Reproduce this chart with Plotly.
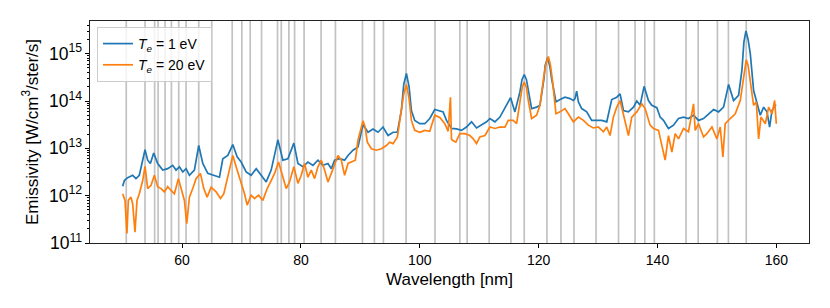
import plotly.graph_objects as go

# ---- data ----
# log10 emissivity values
wl_te1 = [50.0, 50.28, 50.84, 51.68, 52.24, 52.80, 53.76, 54.21, 54.66, 55.22, 55.89, 56.74, 57.58, 58.42,
          58.98, 59.55, 60.11, 60.67, 61.23, 62.07, 62.80, 63.48, 64.32, 65.44, 66.29, 66.85, 67.69, 68.53,
          69.26, 69.94, 70.78, 71.62, 72.47, 73.31, 74.15, 74.99, 76.12, 76.96, 77.80, 78.81, 79.49, 80.33,
          81.17, 82.02, 82.86, 83.70, 84.55, 85.11, 85.67, 86.51, 87.35, 87.92, 88.76, 89.60, 90.44, 91.29,
          92.13, 92.97, 93.81, 94.66, 95.50, 96.23, 96.90, 97.3, 97.75, 98.2, 98.59, 99.15, 100.0, 100.84,
          101.68, 102.52,
          103.37, 103.93, 104.49, 105.34, 106.18, 107.02, 107.86, 108.71, 109.55, 110.39, 111.24, 111.80,
          112.64, 113.48, 114.33, 115.28, 116.01, 116.85, 117.2, 117.58, 117.95, 118.26, 118.82, 119.66,
          120.22, 120.90, 121.1, 121.52, 121.9, 122.19, 122.92, 123.59, 124.44, 125.28, 125.84, 126.12,
          126.40, 126.69, 127.25, 128.09,
          128.93, 129.78, 130.62, 131.46, 132.30, 133.15, 133.71, 134.27, 135.11, 135.96, 136.52, 137.08,
          137.75, 138.48, 139.04, 139.89, 140.45, 141.01, 141.85, 142.70, 143.54, 144.38, 145.22, 146.07,
          146.91, 147.75, 148.60, 149.44, 150.28, 151.12, 151.97, 152.81, 153.65, 154.21, 154.55, 154.89,
          155.25, 155.62, 156.18, 156.74, 157.30, 157.87, 158.43, 158.87, 159.27, 159.83, 160.0]
log_em_te1 = [12.20, 12.32, 12.38, 12.43, 12.36, 12.43, 12.97, 12.75, 12.68, 12.90, 12.68, 12.54, 12.57, 12.64,
              12.54, 12.61, 12.50, 12.57, 12.43, 12.54, 13.06, 12.68, 12.47, 12.43, 12.39, 12.78, 12.85, 13.08,
              12.82, 12.71, 12.50, 12.43, 12.57, 12.43, 12.29, 12.54, 13.18, 12.75, 12.78, 13.11, 12.68, 12.61,
              12.71, 12.64, 12.75, 12.64, 12.68, 12.57, 12.75, 12.78, 12.75, 12.85, 12.96, 13.03, 13.50, 13.34,
              13.41, 13.34, 13.45, 13.27, 13.34, 13.34, 13.80, 14.35, 14.58, 14.30, 13.80, 13.59, 13.52, 13.52,
              13.63, 13.82,
              13.79, 13.77, 13.59, 13.42, 13.41, 13.38, 13.45, 13.56, 13.43, 13.49, 13.56, 13.63,
              13.56, 13.66, 13.87, 14.07, 13.77, 14.19, 14.45, 14.56, 14.45, 14.26, 13.84, 13.87,
              13.91, 14.47, 14.75, 14.92, 14.72, 14.47, 13.98, 14.03, 14.08, 14.05, 14.01, 14.05,
              14.21, 13.98, 13.84, 13.77,
              13.59, 13.59, 13.59, 13.56, 14.03, 14.08, 14.15, 13.80, 13.77, 13.87, 14.00, 13.91,
              14.31, 14.01, 13.91, 13.86, 13.66, 13.59, 13.42, 13.49, 13.63, 13.66, 13.63, 13.70,
              13.59, 13.63, 13.73, 13.82, 13.77, 13.87, 14.35, 14.01, 14.12, 14.65, 15.25, 15.48,
              15.30, 15.00, 14.22, 13.95, 13.70, 13.87, 13.77, 13.45, 13.80, 13.91, 13.91]

wl_te20 = [50.0, 50.39, 50.72, 50.95, 51.40, 51.68, 52.07, 52.41, 52.80, 53.37, 53.76, 54.21, 54.77, 55.33,
           55.89, 56.46, 57.02, 57.58, 58.14, 58.70, 59.38, 59.83, 60.39, 60.78, 61.23, 61.79, 62.35, 63.08,
           63.65, 64.21, 64.88, 65.72, 66.46, 67.02, 67.69, 68.53, 69.26, 69.94, 70.50, 70.95, 71.62, 72.19,
           72.86, 73.59, 74.32, 74.99, 75.56, 76.23, 76.96, 77.52, 78.08, 78.81, 79.49, 80.05, 80.61, 81.17,
           81.74, 82.30, 82.86, 83.42, 83.98, 84.55, 85.11, 85.67, 86.23, 86.79, 87.35, 87.92, 88.48, 89.15,
           89.60, 90.1, 90.44, 90.8, 91.17, 91.85, 92.69, 93.53, 94.38, 94.94, 95.50, 96.23, 96.90, 97.3,
           97.75, 98.2, 98.59, 99.15,
           100.0, 100.84, 101.68, 102.52, 103.37, 104.21, 104.77, 105.16, 105.33, 105.50, 106.07, 106.74,
           107.58, 108.43, 108.99, 109.55, 110.11, 110.97, 111.80, 112.64, 113.48, 114.33, 114.89, 115.73,
           116.29, 116.97, 117.25, 117.58, 117.95, 118.26, 118.82, 119.66, 120.22, 120.90, 121.25, 121.63,
           122.0, 122.36, 122.92, 123.59,
           124.44, 125.0, 125.84, 126.69, 127.53, 128.37, 129.21, 130.06, 130.90, 131.46, 132.02, 132.58,
           133.15, 133.71, 134.27, 135.11, 135.67, 136.52, 137.36, 137.92, 138.76, 139.33, 140.17, 140.73,
           141.29, 141.85, 142.42, 142.98, 143.54, 144.38, 145.22, 146.07, 146.35, 146.91, 147.75, 148.31,
           149.16, 150.0, 150.56, 151.01, 151.40, 152.25, 153.09, 153.93, 154.49, 154.7, 154.94, 155.25,
           155.62, 156.18,
           156.63, 157.02, 157.42, 158.15, 158.71, 159.27, 159.72, 160.0]
log_em_te20 = [12.04, 11.90, 11.20, 11.90, 11.97, 11.83, 11.23, 11.90, 12.04, 12.32, 12.62, 12.15, 12.22, 12.43,
               12.19, 12.15, 12.08, 12.19, 12.11, 12.04, 12.36, 12.15, 11.90, 11.41, 11.97, 12.15, 12.36, 12.47,
               12.15, 11.97, 12.18, 12.08, 11.94, 12.04, 12.39, 12.85, 12.54, 12.26, 12.04, 11.80, 12.01, 11.94,
               12.01, 11.90, 12.15, 12.32, 12.47, 12.71, 12.39, 12.15, 12.29, 12.61, 12.26, 12.43, 12.68, 12.39,
               12.54, 12.36, 12.61, 12.75, 12.54, 12.29, 12.47, 12.68, 12.85, 12.75, 12.43, 12.68, 12.71, 12.75,
               13.17, 13.45, 13.58, 13.45, 13.13, 12.99, 12.96, 12.99, 13.06, 13.13, 13.10, 13.24, 13.80, 14.15,
               14.35, 14.05, 13.59, 13.38,
               13.34, 13.38, 13.36, 13.70, 13.65, 13.52, 13.36, 14.08, 13.20, 13.17, 13.13, 13.31,
               13.31, 13.27, 13.20, 13.10, 13.24, 13.27, 13.45, 13.42, 13.45, 13.45, 13.59, 13.59,
               13.52, 14.01, 14.30, 14.40, 14.28, 14.01, 13.63, 13.70, 13.91, 14.54, 14.80, 14.94,
               14.75, 14.40, 13.73, 13.77,
               13.84, 13.73, 13.56, 13.66, 13.59, 13.49, 13.43, 13.45, 13.35, 13.45, 13.27, 13.66,
               13.87, 14.01, 13.70, 13.27, 13.66, 13.77, 13.94, 13.84, 13.49, 13.42, 13.38, 13.06,
               12.75, 13.27, 12.92, 13.31, 13.20, 13.42, 13.35, 13.94, 13.38, 13.52, 13.24, 13.31,
               13.45, 13.20, 13.45, 12.82, 13.52, 13.63, 13.73, 14.01, 14.51, 14.75, 14.87, 14.75,
               14.44, 13.91,
               13.98, 13.20, 13.66, 13.52, 13.87, 13.73, 14.01, 13.52]

line_wavelengths = [50.6, 53.76, 55.38, 55.96, 57.13, 58.2, 59.43, 60.67, 62.8, 64.99, 68.43, 70.05, 71.46,
                    73.37, 76.06, 76.69, 77.97, 78.93, 80.53, 83.39, 85.8, 90.35, 92.36, 93.88, 97.69, 102.56,
                    106.74, 107.97, 111.68, 115.33, 117.58, 121.4, 123.76, 125.95, 129.66, 133.45, 136.23,
                    137.87, 139.47, 144.8, 146.85, 150.09, 151.94, 154.94]

series_names = ["<i>T</i><sub><i>e</i></sub> = 1 eV", "<i>T</i><sub><i>e</i></sub> = 20 eV"]
x_ticks = [60, 80, 100, 120, 140, 160]

em_te1 = [10 ** v for v in log_em_te1]
em_te20 = [10 ** v for v in log_em_te20]

FONT = "Liberation Sans, Arial, Helvetica, sans-serif"

fig = go.Figure()
fig.add_trace(go.Scatter(x=wl_te1, y=em_te1, mode="lines", name=series_names[0],
                         line=dict(color="#1f77b4", width=1.7)))
fig.add_trace(go.Scatter(x=wl_te20, y=em_te20, mode="lines", name=series_names[1],
                         line=dict(color="#ff7f0e", width=1.7)))

for w in line_wavelengths:
    fig.add_shape(type="line", xref="x", yref="paper", x0=w, x1=w, y0=0, y1=1,
                  line=dict(color="#c2c2c2", width=1.7), layer="below")

fig.update_layout(
    width=830, height=308,
    margin=dict(l=82, r=29, t=13, b=73),
    paper_bgcolor="white", plot_bgcolor="white",
    font=dict(family=FONT, size=14, color="black"),
    showlegend=True,
    legend=dict(x=0.0097, y=0.973, xanchor="left", yanchor="top",
                bgcolor="rgba(255,255,255,0.8)", bordercolor="#cccccc", borderwidth=1,
                font=dict(family=FONT, size=14), itemwidth=30, tracegroupgap=0),
)
fig.update_xaxes(range=[44.5, 165.5], tickvals=x_ticks, ticks="outside", ticklen=4, tickwidth=1,
                 tickcolor="black", showline=True, linecolor="#222222", linewidth=1.2, mirror=True,
                 showgrid=False, zeroline=False, automargin=False,
                 title=dict(text="Wavelength [nm]", standoff=6),
                 tickfont=dict(size=14))
fig.update_yaxes(type="log", range=[11, 15.69], dtick=1, exponentformat="power", ticks="outside",
                 ticklen=4, tickwidth=1, tickcolor="black", showline=True, linecolor="#222222",
                 linewidth=1.2, mirror=True, showgrid=False, zeroline=False, automargin=False,
                 minor=dict(ticks="outside", ticklen=2, tickwidth=0.7, tickcolor="black", dtick="D1",
                            showgrid=False),
                 title=dict(text="Emissivity [W/cm<sup>3</sup>/ster/s]", standoff=6),
                 tickfont=dict(size=14))

fig.write_html("out.html")
